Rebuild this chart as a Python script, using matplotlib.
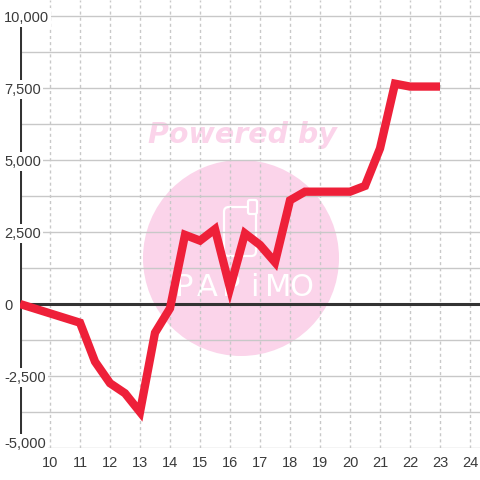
import matplotlib
matplotlib.use("Agg")
import matplotlib.pyplot as plt
from matplotlib.patches import Circle, FancyBboxPatch
from matplotlib.transforms import blended_transform_factory, offset_copy

# ---- data ----
x_vals = [9, 11, 11.5, 12, 12.5, 13, 13.5, 14, 14.5, 15, 15.5, 16, 16.5, 17,
          17.5, 18, 18.5, 20, 20.5, 21, 21.5, 22, 23]
y_vals = [0, -650, -2000, -2750, -3100, -3750, -1000, -150, 2400, 2200, 2600,
          550, 2450, 2050, 1450, 3600, 3900, 3900, 4100, 5400, 7650, 7550, 7550]
x_ticks = list(range(10, 25))
y_label_vals = [10000, 7500, 5000, 2500, 0, -2500, -5000]
y_label_txt = ["10,000", "7,500", "5,000", "2,500", "0", "-2,500", "-5,000"]
y_grid_vals = [-5000 + 1250 * i for i in range(13)]

W = 480.0
fig = plt.figure(figsize=(4.8, 4.8), dpi=100, facecolor="white")
ax = fig.add_axes([20 / W, 32 / W, 460 / W, 448 / W])
ax.set_facecolor("white")
ax.set_xlim(9, 9 + 460 / 30)
ax.set_ylim(-5000, -5000 + 448 / 72 * 2500)
for s in ax.spines.values():
    s.set_visible(False)

# grid
ax.set_xticks(x_ticks)
ax.set_yticks(y_grid_vals)
ax.set_yticklabels([])
ax.tick_params(axis="both", length=0)
ax.tick_params(axis="x", pad=5.5, labelsize=10.5, labelcolor="#3a3a3a")
for lab in ax.get_xticklabels():
    lab.set_fontfamily("Liberation Sans")
ax.set_axisbelow("line")
ax.xaxis.grid(True, color="#c8c8c8", linewidth=1.0, linestyle=(0, (2.2, 2.2)))
ax.yaxis.grid(True, color="#c8c8c8", linewidth=1.0, linestyle="-")

pink = "#fbd4ea"
# watermark
ax.add_patch(Circle((241 / W, 1 - 258 / W), 98 / W, transform=fig.transFigure,
                    facecolor=pink, edgecolor="none", zorder=0.2))
ax.text(242 / W, 1 - 143 / W, "Powered by", transform=fig.transFigure,
        ha="center", va="baseline", fontsize=20.5, fontweight="bold",
        style="italic", family="DejaVu Sans", color=pink, zorder=0.3)
ax.add_patch(FancyBboxPatch((224 / W, 1 - 256 / W), 32 / W, 49 / W,
                            boxstyle="round,pad=0,rounding_size=0.01",
                            transform=fig.transFigure, facecolor="none",
                            edgecolor="white", linewidth=1.6, zorder=0.3))
ax.add_patch(FancyBboxPatch((248 / W, 1 - 214 / W), 9 / W, 14 / W,
                            boxstyle="round,pad=0,rounding_size=0.004",
                            transform=fig.transFigure, facecolor=pink,
                            edgecolor="white", linewidth=1.6, zorder=0.31))
for i, ch in enumerate("PAPiMO"):
    ax.text((184 + 23.5 * i) / W, 1 - 288 / W, ch, transform=fig.transFigure,
            ha="center", va="center", fontsize=22, fontweight="normal",
            family="Liberation Sans Narrow", color="white", zorder=0.3)

# axis lines
ax.axhline(0, color="#333333", linewidth=2.2, zorder=2)
ax.vlines(9, -5000, 10000, color="#333333", linewidth=2.2, zorder=2)

# data line
ax.plot(x_vals, y_vals, color="#ee2039", linewidth=6, solid_capstyle="butt",
        solid_joinstyle="miter", zorder=3)

# y labels
tr = blended_transform_factory(fig.transFigure, ax.transData)
for v, t in zip(y_label_vals, y_label_txt):
    ttr = tr if v != -5000 else offset_copy(tr, fig=fig, x=0, y=6, units="dots")
    ax.text(4 / W, v, t, transform=ttr, ha="left", va="center_baseline",
            fontsize=10.5, family="Liberation Sans", color="#3a3a3a",
            bbox=dict(boxstyle="square,pad=0.15", facecolor="white",
                      edgecolor="none"), zorder=5, clip_on=False)

fig.savefig("out.png", dpi=100, facecolor="white")
